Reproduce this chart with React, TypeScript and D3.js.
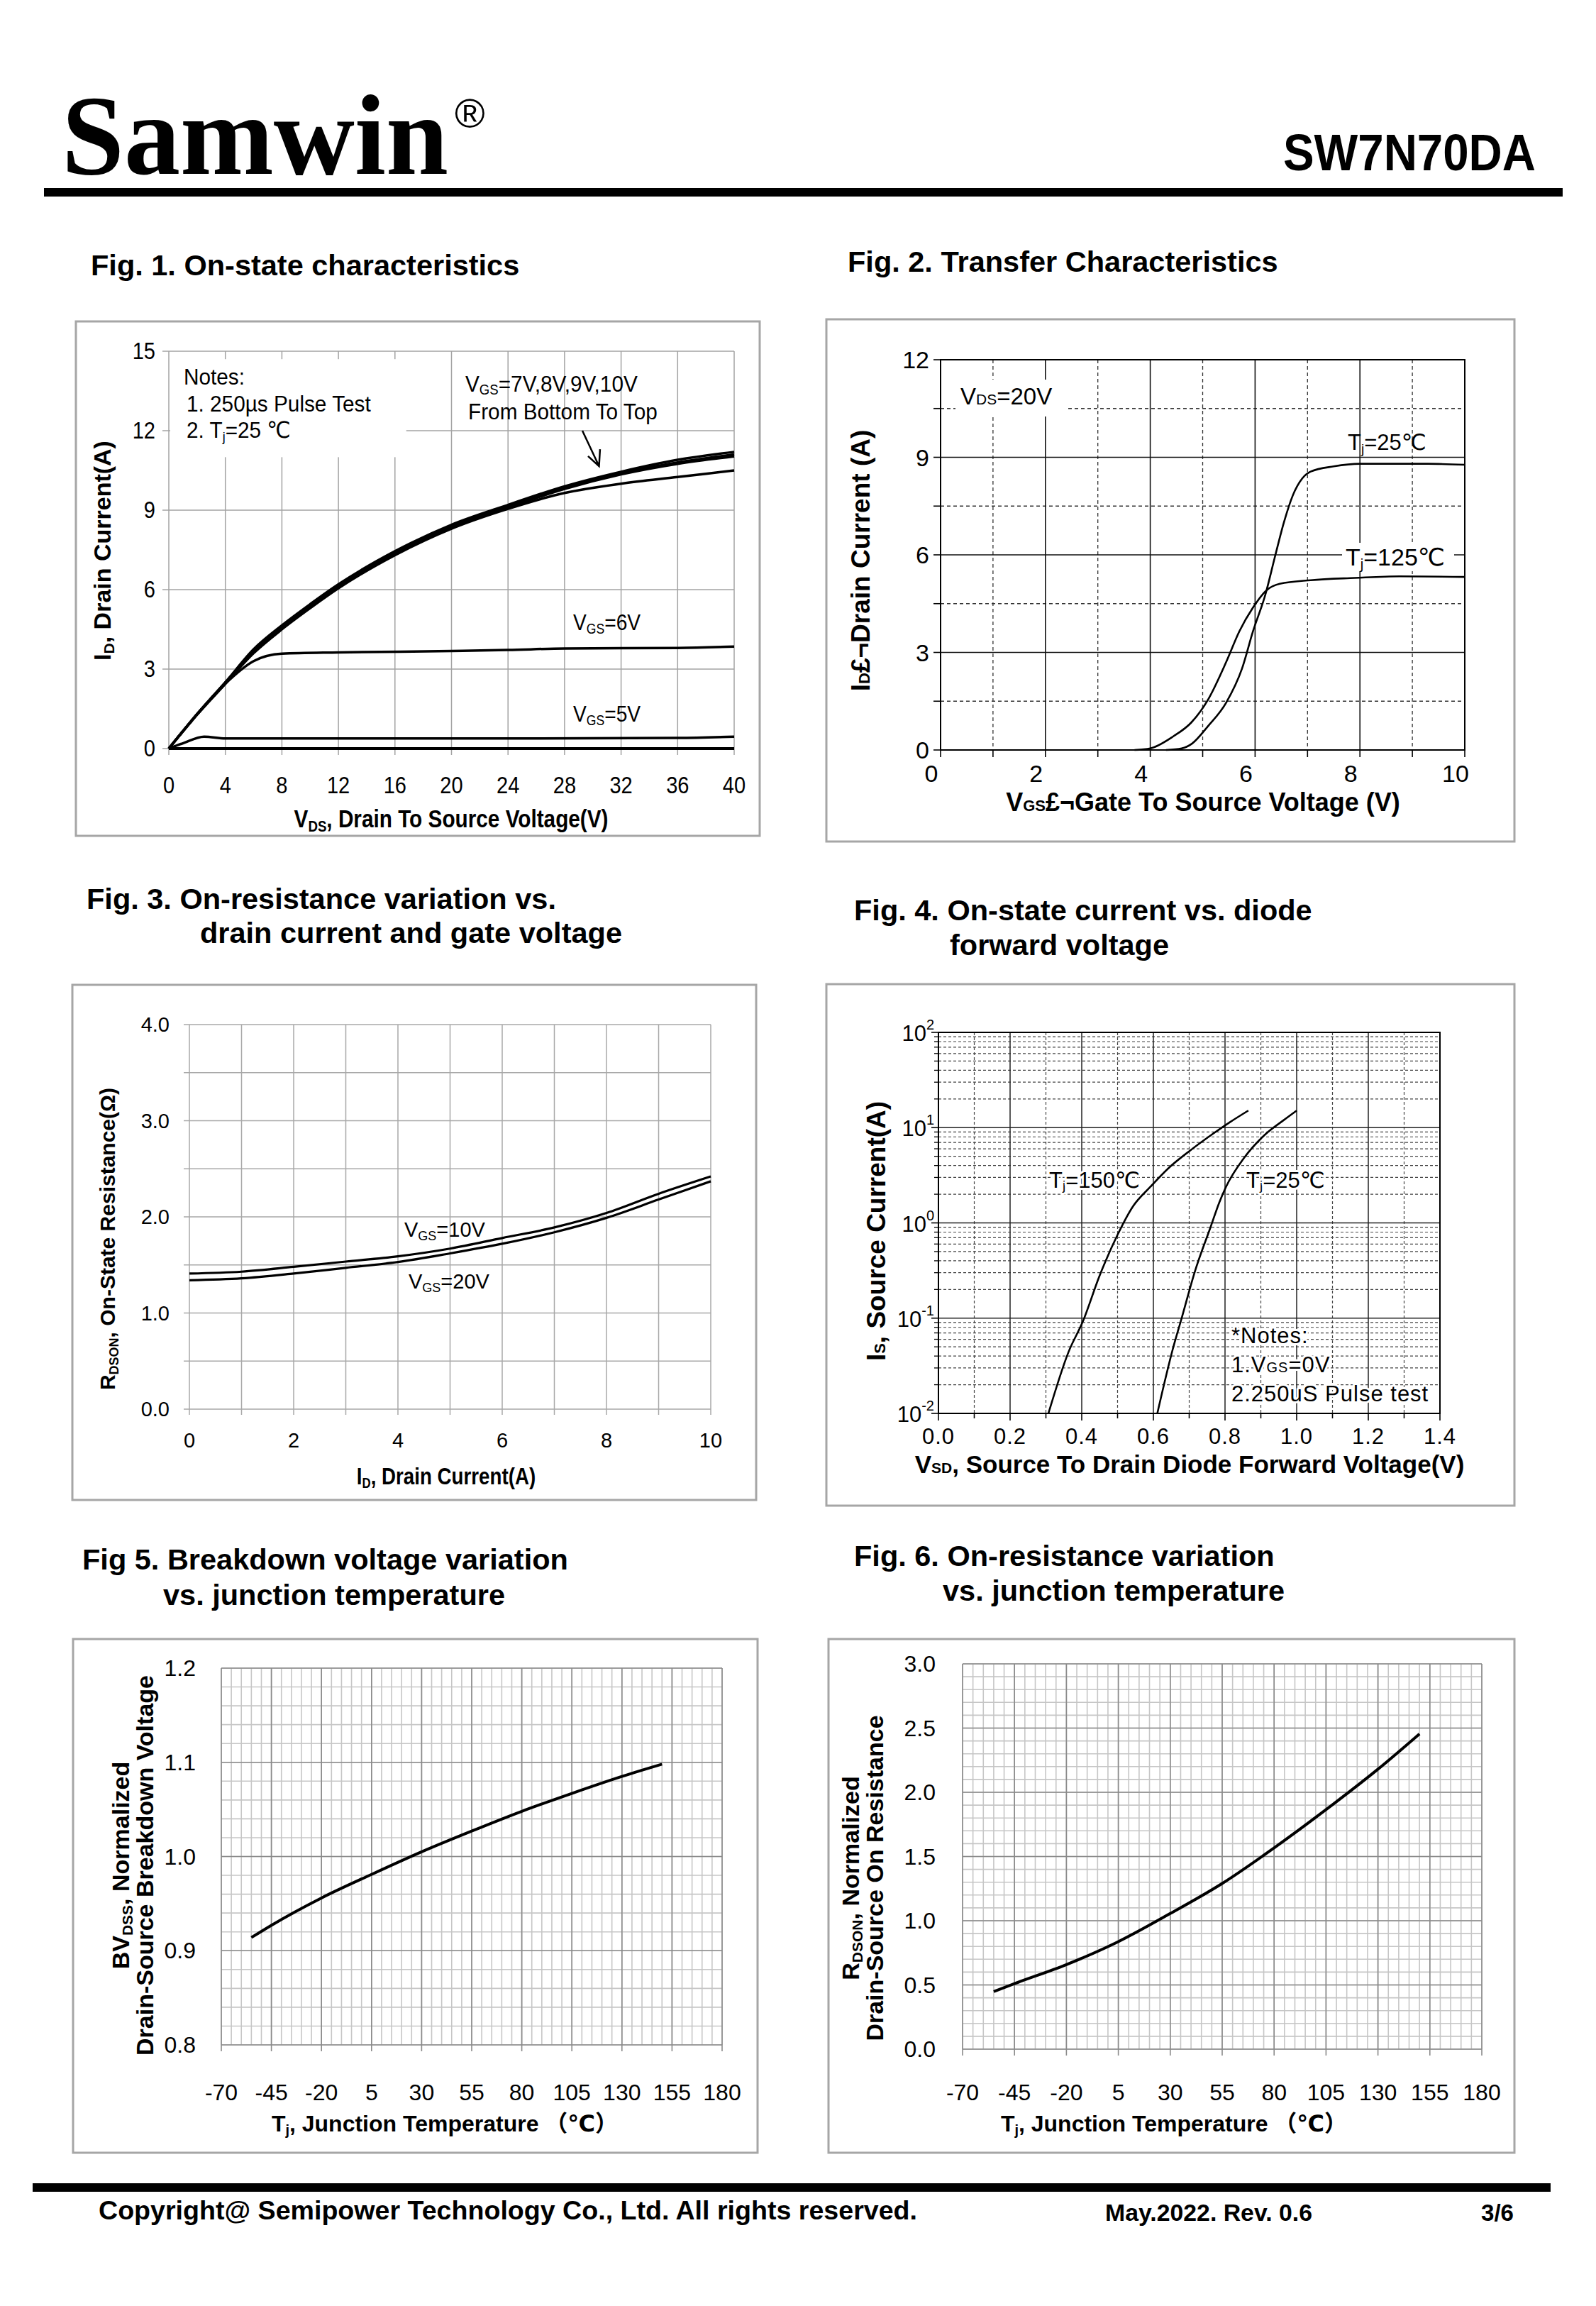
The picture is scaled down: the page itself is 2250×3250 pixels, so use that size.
import * as d3 from "d3"

const SANS = "'Liberation Sans', Arial, 'DejaVu Sans', 'Noto Sans CJK SC', sans-serif"
const SERIF = "'Liberation Serif', 'Times New Roman', serif"
const BOX = "#a6a6a6"

// Fig. 1 - on-state characteristics (VDS [V] -> ID [A])
const f1Vds = [0, 2, 4, 6, 8, 10, 12, 16, 20, 24, 28, 32, 36, 40]
const f1Id10 = [0, 1.3, 2.5, 3.75, 4.65, 5.45, 6.2, 7.45, 8.45, 9.2, 9.9, 10.45, 10.9, 11.2]
const f1Id9 = [0, 1.3, 2.5, 3.7, 4.6, 5.4, 6.15, 7.4, 8.4, 9.15, 9.85, 10.4, 10.8, 11.1]
const f1Id8 = [0, 1.28, 2.45, 3.65, 4.55, 5.35, 6.1, 7.35, 8.35, 9.1, 9.8, 10.35, 10.75, 11.03]
const f1Id7 = [0, 1.28, 2.45, 3.6, 4.5, 5.3, 6.05, 7.3, 8.3, 9.05, 9.65, 10.0, 10.25, 10.5]
const f1Vds6 = [0, 2, 4, 6, 8, 12, 20, 24, 28, 36, 40]
const f1Id6 = [0, 1.3, 2.45, 3.3, 3.58, 3.63, 3.68, 3.72, 3.78, 3.8, 3.85]
const f1Vds5 = [0, 1, 2.5, 4, 8, 20, 36, 40]
const f1Id5 = [0, 0.2, 0.45, 0.38, 0.38, 0.38, 0.4, 0.45]
const f1Vds4 = [0, 40]
const f1Id4 = [0, 0]
const f1XTicks = [0, 4, 8, 12, 16, 20, 24, 28, 32, 36, 40]
const f1YTicks = [0, 3, 6, 9, 12, 15]

// Fig. 2 - transfer characteristics (VGS [V] -> ID [A])
const f2Vgs25 = [4.3, 4.6, 4.8, 5.1, 5.45, 5.75, 5.96, 6.2, 6.38, 6.55, 6.72, 6.9, 7.06, 7.5, 8, 9.3, 10]
const f2Id25 = [0, 0.05, 0.2, 0.73, 1.46, 2.5, 3.65, 4.8, 5.95, 7.0, 7.83, 8.35, 8.56, 8.72, 8.8, 8.8, 8.77]
const f2Vgs125 = [3.7, 4.0, 4.44, 4.78, 5.11, 5.45, 5.7, 5.96, 6.21, 6.47, 7.06, 7.9, 8.75, 10]
const f2Id125 = [0, 0.05, 0.42, 0.84, 1.57, 2.71, 3.65, 4.38, 4.9, 5.11, 5.22, 5.29, 5.34, 5.32]
const f2XTicks = [0, 2, 4, 6, 8, 10]
const f2YTicks = [0, 3, 6, 9, 12]

// Fig. 3 - on-resistance vs drain current (ID [A] -> RDSON [ohm])
const f3Id = [0, 1, 2, 3, 4, 5, 6, 7, 8, 9, 10]
const f3R10 = [1.41, 1.43, 1.48, 1.535, 1.59, 1.67, 1.78, 1.89, 2.04, 2.24, 2.42]
const f3R20 = [1.34, 1.36, 1.41, 1.47, 1.53, 1.62, 1.72, 1.84, 1.99, 2.18, 2.37]
const f3XTicks = [0, 2, 4, 6, 8, 10]
const f3YTicks = [0, 1, 2, 3, 4]

// Fig. 4 - body diode (VSD [V] -> IS [A], log)
const f4Vsd150 = [0.307, 0.363, 0.403, 0.45, 0.5, 0.543, 0.592, 0.642, 0.704, 0.766, 0.815, 0.865]
const f4Is150 = [0.01, 0.044, 0.092, 0.28, 0.75, 1.49, 2.4, 3.75, 5.8, 8.6, 11.5, 15.1]
const f4Vsd25 = [0.611, 0.654, 0.679, 0.716, 0.76, 0.784, 0.803, 0.853, 0.914, 0.964, 1.0]
const f4Is25 = [0.01, 0.047, 0.1, 0.31, 0.91, 1.64, 2.4, 4.8, 8.6, 12, 15.1]
const f4XTicks = [0, 0.2, 0.4, 0.6, 0.8, 1.0, 1.2, 1.4]
const f4Decades = [-2, -1, 0, 1, 2]

// Fig. 5 - normalized BVDSS vs Tj
const f5T = [-55, -45, -20, 5, 30, 55, 80, 105, 130, 150]
const f5Bv = [0.914, 0.927, 0.956, 0.981, 1.005, 1.027, 1.048, 1.067, 1.085, 1.098]
const tempTicks = [-70, -45, -20, 5, 30, 55, 80, 105, 130, 155, 180]
const f5YTicks = [0.8, 0.9, 1.0, 1.1, 1.2]

// Fig. 6 - normalized RDSON vs Tj
const f6T = [-55, -45, -20, 5, 30, 55, 80, 105, 130, 150]
const f6R = [0.448, 0.51, 0.658, 0.837, 1.056, 1.29, 1.567, 1.865, 2.18, 2.455]
const f6YTicks = [0, 0.5, 1.0, 1.5, 2.0, 2.5, 3.0]

type Scale = (v: number) => number

function curve(xs: number[], ys: number[], x: Scale, y: Scale) {
  return (
    d3
      .line<number>()
      .x((_, i) => x(xs[i]))
      .y((d) => y(d))
      .curve(d3.curveMonotoneX)(ys) ?? ""
  )
}

const fmt1 = d3.format(".1f")

// condensed text: no narrow face installed, so squeeze horizontally
const squeeze = (x: number, y: number, sx = 0.88) => `translate(${x},${y}) scale(${sx},1)`

function Title({ x, y, lines }: { x: number[]; y: number[]; lines: string[] }) {
  return (
    <g fontSize={41.5} fontWeight="bold">
      {lines.map((l, i) => (
        <text key={i} x={x[i]} y={y[i]}>
          {l}
        </text>
      ))}
    </g>
  )
}

function Fig1() {
  const x = d3.scaleLinear().domain([0, 40]).range([238, 1035])
  const y = d3.scaleLinear().domain([0, 15]).range([1055, 495])
  const grid = "#a3a3a3"
  return (
    <g>
      <Title x={[128]} y={[388]} lines={["Fig. 1. On-state characteristics"]} />
      <rect x={107} y={453} width={964} height={725} fill="none" stroke={BOX} strokeWidth={3} />
      {f1XTicks.map((t) => (
        <line key={`gx${t}`} x1={x(t)} x2={x(t)} y1={y(15)} y2={y(0)} stroke={grid} strokeWidth={1.5} />
      ))}
      {f1YTicks.map((t) => (
        <line key={`gy${t}`} x1={x(0)} x2={x(40)} y1={y(t)} y2={y(t)} stroke={grid} strokeWidth={1.5} />
      ))}
      <rect x={x(0) + 2} y={y(14.7)} width={x(16.8) - x(0) - 2} height={y(11.0) - y(14.7)} fill="#fff" />
      {f1YTicks.map((t) => (
        <line key={`ty${t}`} x1={x(0) - 9} x2={x(0)} y1={y(t)} y2={y(t)} stroke={grid} strokeWidth={1.5} />
      ))}
      {f1XTicks.map((t) => (
        <line key={`tx${t}`} x1={x(t)} x2={x(t)} y1={y(0)} y2={y(0) + 9} stroke={grid} strokeWidth={1.5} />
      ))}
      <g fontSize={33}>
        {f1YTicks.map((t) => (
          <text key={`ly${t}`} transform={squeeze(x(0) - 19, y(t) + 11)} textAnchor="end">
            {t}
          </text>
        ))}
        {f1XTicks.map((t) => (
          <text key={`lx${t}`} transform={squeeze(x(t), 1118)} textAnchor="middle">
            {t}
          </text>
        ))}
      </g>
      <g fill="none" stroke="#000" strokeLinejoin="round">
        <path d={curve(f1Vds4, f1Id4, x, y)} strokeWidth={4} />
        <path d={curve(f1Vds5, f1Id5, x, y)} strokeWidth={3.5} />
        <path d={curve(f1Vds6, f1Id6, x, y)} strokeWidth={3.5} />
        <path d={curve(f1Vds, f1Id7, x, y)} strokeWidth={3.5} />
        <path d={curve(f1Vds, f1Id8, x, y)} strokeWidth={3.5} />
        <path d={curve(f1Vds, f1Id9, x, y)} strokeWidth={3.5} />
        <path d={curve(f1Vds, f1Id10, x, y)} strokeWidth={3.5} />
      </g>
      <g fontSize={32}>
        <text transform={squeeze(259, 542, 0.93)}>Notes:</text>
        <text transform={squeeze(263, 580, 0.93)}>1. 250µs  Pulse Test</text>
        <text transform={squeeze(263, 617, 0.93)}>
          2. T<tspan fontSize={19} dy={5}>j</tspan>
          <tspan dy={-5}>=25 ℃</tspan>
        </text>
        <text transform={squeeze(656, 552, 0.93)}>
          V<tspan fontSize={20} dy={4}>GS</tspan>
          <tspan dy={-4}>=7V,8V,9V,10V</tspan>
        </text>
        <text transform={squeeze(660, 591, 0.93)}>From Bottom To Top</text>
        <text transform={squeeze(808, 888)}>
          V<tspan fontSize={20} dy={5}>GS</tspan>
          <tspan dy={-5}>=6V</tspan>
        </text>
        <text transform={squeeze(808, 1017)}>
          V<tspan fontSize={20} dy={5}>GS</tspan>
          <tspan dy={-5}>=5V</tspan>
        </text>
      </g>
      <path
        d={`M${x(29.26)},${y(12.0)}L${x(30.44)},${y(10.66)}M${x(29.66)},${y(11.04)}L${x(30.44)},${y(10.66)}L${x(30.51)},${y(11.3)}`}
        fill="none"
        stroke="#000"
        strokeWidth={2.5}
      />
      <text transform={`translate(156,776) rotate(-90)`} textAnchor="middle" fontWeight="bold" fontSize={34}>
        I<tspan fontSize={21} dy={5}>D</tspan>
        <tspan dy={-5}>,  Drain Current(A)</tspan>
      </text>
      <text transform={squeeze(636, 1166, 0.85)} textAnchor="middle" fontWeight="bold" fontSize={35}>
        V<tspan fontSize={22} dy={6}>DS</tspan>
        <tspan dy={-6}>, Drain To Source Voltage(V)</tspan>
      </text>
    </g>
  )
}

function Fig2() {
  const x = d3.scaleLinear().domain([0, 10]).range([1326, 2065])
  const y = d3.scaleLinear().domain([0, 12]).range([1057, 507])
  const minorX = d3.range(1, 10, 2)
  const majorX = [2, 4, 6, 8]
  const minorY = [1.5, 4.5, 7.5, 10.5]
  const majorY = [3, 6, 9]
  return (
    <g>
      <Title x={[1195]} y={[383]} lines={["Fig. 2. Transfer Characteristics"]} />
      <rect x={1165} y={450} width={970} height={736} fill="none" stroke={BOX} strokeWidth={3} />
      {minorX.map((t) => (
        <line key={`mx${t}`} x1={x(t)} x2={x(t)} y1={y(12)} y2={y(0)} stroke="#333" strokeWidth={1.3} strokeDasharray="5 4" />
      ))}
      {minorY.map((t) => (
        <line key={`my${t}`} x1={x(0)} x2={x(10)} y1={y(t)} y2={y(t)} stroke="#333" strokeWidth={1.3} strokeDasharray="5 4" />
      ))}
      {majorX.map((t) => (
        <line key={`jx${t}`} x1={x(t)} x2={x(t)} y1={y(12)} y2={y(0)} stroke="#111" strokeWidth={1.6} />
      ))}
      {majorY.map((t) => (
        <line key={`jy${t}`} x1={x(0)} x2={x(10)} y1={y(t)} y2={y(t)} stroke="#111" strokeWidth={1.6} />
      ))}
      <rect x={x(0)} y={y(12)} width={x(10) - x(0)} height={y(0) - y(12)} fill="none" stroke="#000" strokeWidth={2} />
      {d3.range(0, 11).map((t) => (
        <line key={`tx${t}`} x1={x(t)} x2={x(t)} y1={y(0)} y2={y(0) + 10} stroke="#000" strokeWidth={1.6} />
      ))}
      {[0, 1.5, 3, 4.5, 6, 7.5, 9, 10.5, 12].map((t) => (
        <line key={`ty${t}`} x1={x(0) - 10} x2={x(0)} y1={y(t)} y2={y(t)} stroke="#000" strokeWidth={1.6} />
      ))}
      <rect x={1347} y={535} width={157} height={52} fill="#fff" />
      <rect x={1892} y={765} width={158} height={40} fill="#fff" />
      <g fontSize={34}>
        {f2YTicks.map((t) => (
          <text key={`ly${t}`} x={x(0) - 16} y={y(t) + 12} textAnchor="end">
            {t}
          </text>
        ))}
        {f2XTicks.map((t) => (
          <text key={`lx${t}`} x={x(t) - 13} y={1102} textAnchor="middle">
            {t}
          </text>
        ))}
        <text x={1354} y={570} fontSize={33}>
          V<tspan fontSize={21}>DS</tspan>=20V
        </text>
        <text x={1900} y={634} fontSize={31}>
          T<tspan fontSize={19} dy={5}>j</tspan>
          <tspan dy={-5}>=25℃</tspan>
        </text>
        <text x={1897} y={797} fontSize={34}>
          T<tspan fontSize={20} dy={5}>j</tspan>
          <tspan dy={-5}>=125℃</tspan>
        </text>
      </g>
      <g fill="none" stroke="#000" strokeWidth={2.6}>
        <path d={curve(f2Vgs25, f2Id25, x, y)} />
        <path d={curve(f2Vgs125, f2Id125, x, y)} />
      </g>
      <text transform={`translate(1226,790) rotate(-90)`} textAnchor="middle" fontWeight="bold" fontSize={37}>
        I<tspan fontSize={22}>D</tspan>£¬Drain Current (A)
      </text>
      <text x={1696} y={1143} textAnchor="middle" fontWeight="bold" fontSize={36}>
        V<tspan fontSize={22}>GS</tspan>£¬Gate To Source Voltage (V)
      </text>
    </g>
  )
}

function Fig3() {
  const x = d3.scaleLinear().domain([0, 10]).range([267, 1002])
  const y = d3.scaleLinear().domain([0, 4]).range([1986, 1444])
  const grid = "#a8a8a8"
  return (
    <g>
      <Title x={[122, 282]} y={[1281, 1329]} lines={["Fig. 3. On-resistance variation vs.", "drain current and gate voltage"]} />
      <rect x={102} y={1388} width={964} height={726} fill="none" stroke={BOX} strokeWidth={3} />
      {d3.range(0, 11).map((t) => (
        <line key={`gx${t}`} x1={x(t)} x2={x(t)} y1={y(4)} y2={y(0)} stroke={grid} strokeWidth={1.5} />
      ))}
      {d3.range(0, 9).map((i) => (
        <line key={`gy${i}`} x1={x(0)} x2={x(10)} y1={y(i / 2)} y2={y(i / 2)} stroke={grid} strokeWidth={1.5} />
      ))}
      {d3.range(0, 11).map((t) => (
        <line key={`tx${t}`} x1={x(t)} x2={x(t)} y1={y(0)} y2={y(0) + 8} stroke={grid} strokeWidth={1.5} />
      ))}
      {d3.range(0, 9).map((i) => (
        <line key={`ty${i}`} x1={x(0) - 8} x2={x(0)} y1={y(i / 2)} y2={y(i / 2)} stroke={grid} strokeWidth={1.5} />
      ))}
      <g fontSize={29}>
        {f3YTicks.map((t) => (
          <text key={`ly${t}`} x={x(0) - 28} y={y(t) + 10} textAnchor="end">
            {fmt1(t)}
          </text>
        ))}
        {f3XTicks.map((t) => (
          <text key={`lx${t}`} x={x(t)} y={2040} textAnchor="middle">
            {t}
          </text>
        ))}
        <text x={570} y={1743}>
          V<tspan fontSize={18} dy={5}>GS</tspan>
          <tspan dy={-5}>=10V</tspan>
        </text>
        <text x={576} y={1816}>
          V<tspan fontSize={18} dy={5}>GS</tspan>
          <tspan dy={-5}>=20V</tspan>
        </text>
      </g>
      <g fill="none" stroke="#000" strokeWidth={3.2}>
        <path d={curve(f3Id, f3R10, x, y)} />
        <path d={curve(f3Id, f3R20, x, y)} />
      </g>
      <text transform={`translate(162,1746) rotate(-90)`} textAnchor="middle" fontWeight="bold" fontSize={30}>
        R<tspan fontSize={18} dy={5}>DSON</tspan>
        <tspan dy={-5}>, On-State Resistance(Ω)</tspan>
      </text>
      <text transform={squeeze(629, 2092, 0.84)} textAnchor="middle" fontWeight="bold" fontSize={33}>
        I<tspan fontSize={20} dy={5}>D</tspan>
        <tspan dy={-5}>, Drain Current(A)</tspan>
      </text>
    </g>
  )
}

function Fig4() {
  const x = d3.scaleLinear().domain([0, 1.4]).range([1323, 2030])
  const y = d3.scaleLog().domain([0.01, 100]).range([1992, 1455])
  const minorY: number[] = []
  f4Decades.slice(0, 4).forEach((d) => {
    for (let m = 2; m <= 9; m++) minorY.push(m * Math.pow(10, d))
  })
  const tenths = d3.range(1, 14)
  return (
    <g>
      <Title x={[1204, 1339]} y={[1297, 1346]} lines={["Fig. 4. On-state current vs. diode", "forward voltage"]} />
      <rect x={1165} y={1387} width={970} height={735} fill="none" stroke={BOX} strokeWidth={3} />
      {minorY.map((v, i) => (
        <line key={`my${i}`} x1={x(0)} x2={x(1.4)} y1={y(v)} y2={y(v)} stroke="#444" strokeWidth={1.2} strokeDasharray="4 3" />
      ))}
      {tenths
        .filter((i) => i % 2 === 1)
        .map((i) => (
          <line key={`mx${i}`} x1={x(i / 10)} x2={x(i / 10)} y1={y(100)} y2={y(0.01)} stroke="#444" strokeWidth={1.2} strokeDasharray="4 3" />
        ))}
      {tenths
        .filter((i) => i % 2 === 0)
        .map((i) => (
          <line key={`jx${i}`} x1={x(i / 10)} x2={x(i / 10)} y1={y(100)} y2={y(0.01)} stroke="#222" strokeWidth={1.5} />
        ))}
      {f4Decades.map((d) => (
        <line key={`jy${d}`} x1={x(0)} x2={x(1.4)} y1={y(Math.pow(10, d))} y2={y(Math.pow(10, d))} stroke="#222" strokeWidth={1.5} />
      ))}
      <rect x={x(0)} y={y(100)} width={x(1.4) - x(0)} height={y(0.01) - y(100)} fill="none" stroke="#000" strokeWidth={2} />
      {minorY.map((v, i) => (
        <line key={`ty${i}`} x1={x(0) - 6} x2={x(0)} y1={y(v)} y2={y(v)} stroke="#000" strokeWidth={1.3} />
      ))}
      {f4Decades.map((d) => (
        <line key={`tyd${d}`} x1={x(0) - 10} x2={x(0)} y1={y(Math.pow(10, d))} y2={y(Math.pow(10, d))} stroke="#000" strokeWidth={1.6} />
      ))}
      {d3.range(0, 15).map((i) => (
        <line key={`tx${i}`} x1={x(i / 10)} x2={x(i / 10)} y1={y(0.01)} y2={y(0.01) + (i % 2 === 0 ? 10 : 7)} stroke="#000" strokeWidth={1.6} />
      ))}
      <g fontSize={31} letterSpacing={1}>
        {f4XTicks.map((t) => (
          <text key={`lx${t}`} x={x(t)} y={2035} textAnchor="middle">
            {fmt1(t)}
          </text>
        ))}
        {f4Decades.map((d) => (
          <text key={`ly${d}`} x={x(0) - 6} y={y(Math.pow(10, d)) + 12} textAnchor="end" letterSpacing={0}>
            10<tspan fontSize={20} dy={-16}>{d}</tspan>
          </text>
        ))}
      </g>
      <g fill="none" stroke="#000" strokeWidth={2.6}>
        <path d={curve(f4Vsd150, f4Is150, x, y)} />
        <path d={curve(f4Vsd25, f4Is25, x, y)} />
      </g>
      <g fontSize={31} stroke="#fff" strokeWidth={6} paintOrder="stroke" strokeLinejoin="round">
        <text x={1479} y={1674}>
          T<tspan fontSize={19} dy={3}>j</tspan>
          <tspan dy={-3}>=150℃</tspan>
        </text>
        <text x={1757} y={1674}>
          T<tspan fontSize={19} dy={3}>j</tspan>
          <tspan dy={-3}>=25℃</tspan>
        </text>
        <text x={1736} y={1893} letterSpacing={1}>*Notes:</text>
        <text x={1736} y={1934} letterSpacing={1}>
          1.V<tspan fontSize={20}>GS</tspan>=0V
        </text>
        <text x={1736} y={1975} letterSpacing={1}>2.250uS Pulse test</text>
      </g>
      <text transform={`translate(1248,1735) rotate(-90)`} textAnchor="middle" fontWeight="bold" fontSize={37}>
        I<tspan fontSize={22}>S</tspan>, Source Current(A)
      </text>
      <text x={1677} y={2076} textAnchor="middle" fontWeight="bold" fontSize={35}>
        V<tspan fontSize={21}>SD</tspan>, Source To Drain Diode Forward Voltage(V)
      </text>
    </g>
  )
}

function TempGrid({ x, y, yMinor, majorEvery }: { x: d3.ScaleLinear<number, number>; y: d3.ScaleLinear<number, number>; yMinor: number[]; majorEvery: number }) {
  const xs = d3.range(-70, 181, 5)
  const minor = "#c6c6c6"
  const major = "#8a8a8a"
  const [y0, y1] = y.domain()
  return (
    <g>
      {xs.map((t) => (
        <line key={`vx${t}`} x1={x(t)} x2={x(t)} y1={y(y1)} y2={y(y0)} stroke={minor} strokeWidth={1.6} />
      ))}
      {yMinor.map((v, i) => (
        <line key={`hy${i}`} x1={x(-70)} x2={x(180)} y1={y(v)} y2={y(v)} stroke={minor} strokeWidth={1.6} />
      ))}
      {xs
        .filter((t) => (t + 70) % 25 === 0)
        .map((t) => (
          <g key={`mj${t}`}>
            <line x1={x(t)} x2={x(t)} y1={y(y1)} y2={y(y0)} stroke={major} strokeWidth={1.6} />
            <line x1={x(t)} x2={x(t)} y1={y(y0)} y2={y(y0) + 9} stroke={major} strokeWidth={1.6} />
          </g>
        ))}
      {yMinor
        .filter((_, i) => i % majorEvery === 0)
        .map((v, i) => (
          <line key={`mjy${i}`} x1={x(-70)} x2={x(180)} y1={y(v)} y2={y(v)} stroke={major} strokeWidth={1.6} />
        ))}
      <g fontSize={32}>
        {tempTicks.map((t) => (
          <text key={`lx${t}`} x={x(t)} y={2960} textAnchor="middle">
            {t}
          </text>
        ))}
      </g>
    </g>
  )
}

function Fig5() {
  const x = d3.scaleLinear().domain([-70, 180]).range([312, 1018])
  const y = d3.scaleLinear().domain([0.8, 1.2]).range([2882, 2351])
  const yMinor = d3.range(0, 21).map((i) => 0.8 + i * 0.02)
  return (
    <g>
      <Title x={[116, 230]} y={[2212, 2262]} lines={["Fig 5. Breakdown voltage variation", "vs. junction temperature"]} />
      <rect x={103} y={2310} width={965} height={724} fill="none" stroke={BOX} strokeWidth={3} />
      <TempGrid x={x} y={y} yMinor={yMinor} majorEvery={5} />
      <g fontSize={32}>
        {f5YTicks.map((t) => (
          <text key={`ly${t}`} x={x(-70) - 36} y={y(t) + 11} textAnchor="end">
            {fmt1(t)}
          </text>
        ))}
      </g>
      <path d={curve(f5T, f5Bv, x, y)} fill="none" stroke="#000" strokeWidth={4} />
      <g fontWeight="bold" fontSize={34} textAnchor="middle">
        <text transform={`translate(182,2629) rotate(-90)`}>
          BV<tspan fontSize={21} dy={5}>DSS</tspan>
          <tspan dy={-5}>, Normalized</tspan>
        </text>
        <text transform={`translate(216,2629) rotate(-90)`}>Drain-Source Breakdown Voltage</text>
      </g>
      <text x={627} y={3004} textAnchor="middle" fontWeight="bold" fontSize={32}>
        T<tspan fontSize={20} dy={5}>j</tspan>
        <tspan dy={-5}>, Junction Temperature （℃）</tspan>
      </text>
    </g>
  )
}

function Fig6() {
  const x = d3.scaleLinear().domain([-70, 180]).range([1357, 2089])
  const y = d3.scaleLinear().domain([0, 3]).range([2888, 2345])
  const yMinor = d3.range(0, 31).map((i) => i * 0.1)
  return (
    <g>
      <Title x={[1204, 1329]} y={[2207, 2256]} lines={["Fig. 6. On-resistance variation", "vs. junction temperature"]} />
      <rect x={1168} y={2310} width={967} height={724} fill="none" stroke={BOX} strokeWidth={3} />
      <TempGrid x={x} y={y} yMinor={yMinor} majorEvery={5} />
      <g fontSize={32}>
        {f6YTicks.map((t) => (
          <text key={`ly${t}`} x={x(-70) - 38} y={y(t) + 11} textAnchor="end">
            {fmt1(t)}
          </text>
        ))}
      </g>
      <path d={curve(f6T, f6R, x, y)} fill="none" stroke="#000" strokeWidth={4} />
      <g fontWeight="bold" fontSize={34} textAnchor="middle">
        <text transform={`translate(1211,2647) rotate(-90)`}>
          R<tspan fontSize={21} dy={5}>DSON</tspan>
          <tspan dy={-5}>, Normalized</tspan>
        </text>
        <text transform={`translate(1245,2647) rotate(-90)`}>Drain-Source On Resistance</text>
      </g>
      <text x={1655} y={3004} textAnchor="middle" fontWeight="bold" fontSize={32}>
        T<tspan fontSize={20} dy={5}>j</tspan>
        <tspan dy={-5}>, Junction Temperature （℃）</tspan>
      </text>
    </g>
  )
}

export default function App() {
  return (
    <svg
      width={2250}
      height={3250}
      viewBox="0 0 2250 3250"
      style={{ position: "absolute", left: 0, top: 0, display: "block" }}
      fontFamily={SANS}
    >
      <rect width={2250} height={3250} fill="#fff" />
      {/* header */}
      <text x={87} y={245} fontFamily={SERIF} fontWeight="bold" fontSize={160} textLength={545} lengthAdjust="spacingAndGlyphs">
        Samwin
      </text>
      <text x={641} y={180} fontSize={58}>
        ®
      </text>
      <text x={1809} y={240} fontWeight="bold" fontSize={72} textLength={356} lengthAdjust="spacingAndGlyphs">
        SW7N70DA
      </text>
      <rect x={62} y={265} width={2141} height={12} fill="#000" />

      <Fig1 />
      <Fig2 />
      <Fig3 />
      <Fig4 />
      <Fig5 />
      <Fig6 />

      {/* footer */}
      <rect x={46} y={3077} width={2140} height={12} fill="#000" />
      <g fontWeight="bold">
        <text x={139} y={3128} fontSize={36} textLength={1154} lengthAdjust="spacingAndGlyphs">
          Copyright@ Semipower Technology Co., Ltd. All rights reserved.
        </text>
        <text x={1558} y={3130} fontSize={33} textLength={292} lengthAdjust="spacingAndGlyphs">
          May.2022. Rev. 0.6
        </text>
        <text x={2088} y={3130} fontSize={33} textLength={46} lengthAdjust="spacingAndGlyphs">
          3/6
        </text>
      </g>
    </svg>
  )
}
